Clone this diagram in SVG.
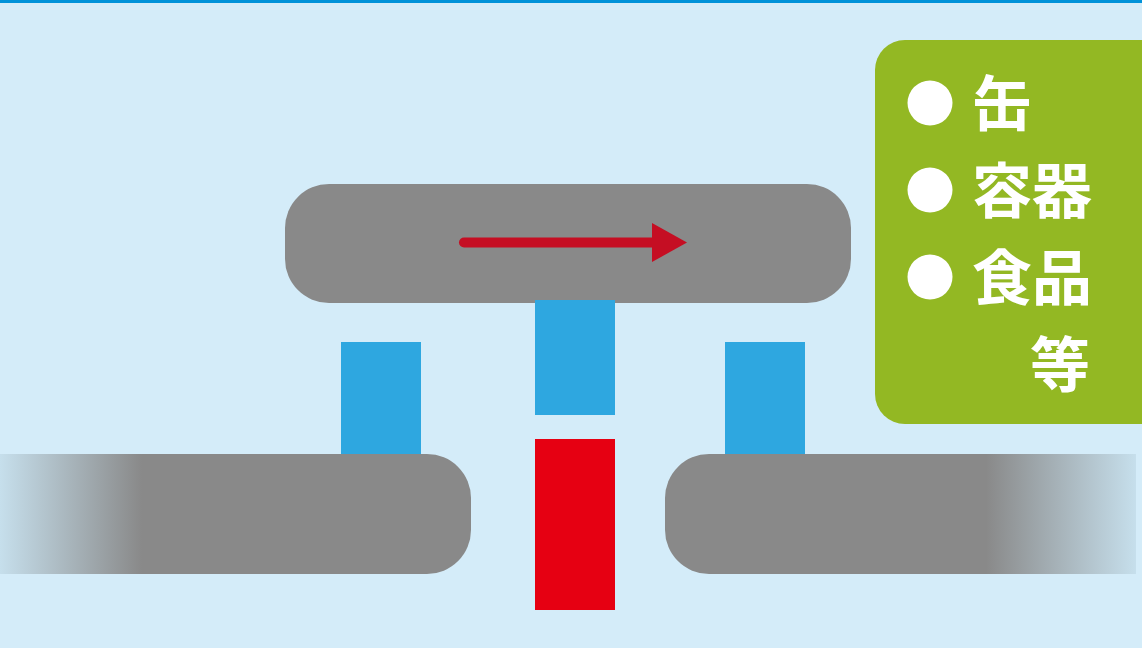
<svg xmlns="http://www.w3.org/2000/svg" width="1142" height="648" viewBox="0 0 1142 648">
<defs>
<linearGradient id="gl" gradientUnits="userSpaceOnUse" x1="0" y1="0" x2="142" y2="0">
<stop offset="0" stop-color="#c6dfec"/>
<stop offset="1" stop-color="#898989"/>
</linearGradient>
<linearGradient id="gr" gradientUnits="userSpaceOnUse" x1="986" y1="0" x2="1136" y2="0">
<stop offset="0" stop-color="#898989"/>
<stop offset="1" stop-color="#c6dfec"/>
</linearGradient>
<style>
.blue{fill:#2ea7e0}
.gray{fill:#898989}
.txt{font-family:"Noto Sans CJK JP","Noto Sans CJK SC",sans-serif;font-weight:700;font-size:60px;fill:#ffffff}
</style>
</defs>
<rect x="0" y="0" width="1142" height="648" fill="#d4ecf9"/>
<rect x="0" y="0" width="1142" height="3" fill="#0092d9"/>
<g id="top-bar">
<rect class="gray" x="285" y="184" width="566" height="119" rx="44"/>
</g>
<g id="columns">
<rect class="blue" x="341" y="342" width="80" height="114"/>
<rect class="blue" x="535" y="300" width="80" height="115"/>
<rect class="blue" x="725" y="342" width="80" height="114"/>
<rect x="535" y="439" width="80" height="171" fill="#e60012"/>
</g>
<g id="left-bar">
<path d="M0 454 H427 A44 44 0 0 1 471 498 V530 A44 44 0 0 1 427 574 H0 Z" fill="url(#gl)"/>
</g>
<g id="right-bar">
<path d="M1136 454 H709 A44 44 0 0 0 665 498 V530 A44 44 0 0 0 709 574 H1136 Z" fill="url(#gr)"/>
</g>
<g id="connectors">
<line x1="464" y1="242.5" x2="656" y2="242.5" stroke="#c50e23" stroke-width="10" stroke-linecap="round"/>
<polygon points="652,223 687,242.5 652,262" fill="#c50e23"/>
</g>
<g id="label-box">
<rect x="875" y="40" width="300" height="384" rx="30" fill="#93b823"/>
<circle cx="930" cy="103" r="22.5" fill="#fff"/>
<circle cx="930" cy="190" r="22.5" fill="#fff"/>
<circle cx="930" cy="277" r="22.5" fill="#fff"/>
<text class="txt" x="972" y="126">缶</text>
<text class="txt" x="972" y="213">容器</text>
<text class="txt" x="972" y="300">食品</text>
<text class="txt" x="1030" y="387">等</text>
</g>
</svg>
